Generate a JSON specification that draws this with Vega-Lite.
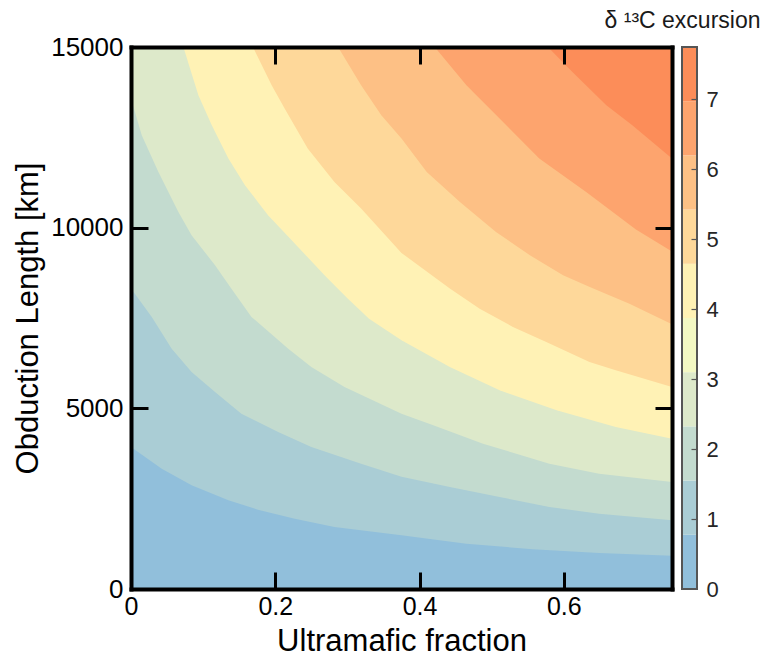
{
  "$schema": "https://vega.github.io/schema/vega-lite/v6.json",
  "padding": {"left": 12, "top": 10, "right": 5, "bottom": 5},
  "config": {"font": "Liberation Sans", "view": {"stroke": null}, "axis": {"grid": false}},
  "datasets": {
    "contours": [
      {"band": "b0", "x": 0, "y": 0}, {"band": "b0", "x": 0.75, "y": 0},
      {"band": "b1", "x": 0, "y": 3930}, {"band": "b1", "x": 0.0426, "y": 3330}, {"band": "b1", "x": 0.084, "y": 2870}, {"band": "b1", "x": 0.135, "y": 2455}, {"band": "b1", "x": 0.176, "y": 2195}, {"band": "b1", "x": 0.227, "y": 1946}, {"band": "b1", "x": 0.282, "y": 1716}, {"band": "b1", "x": 0.375, "y": 1486}, {"band": "b1", "x": 0.465, "y": 1254}, {"band": "b1", "x": 0.557, "y": 1099}, {"band": "b1", "x": 0.649, "y": 996}, {"band": "b1", "x": 0.75, "y": 920},
      {"band": "b2", "x": 0, "y": 8313}, {"band": "b2", "x": 0.0288, "y": 7530}, {"band": "b2", "x": 0.0564, "y": 6652}, {"band": "b2", "x": 0.084, "y": 6007}, {"band": "b2", "x": 0.1165, "y": 5453}, {"band": "b2", "x": 0.153, "y": 4852}, {"band": "b2", "x": 0.204, "y": 4346}, {"band": "b2", "x": 0.25, "y": 3931}, {"band": "b2", "x": 0.319, "y": 3468}, {"band": "b2", "x": 0.375, "y": 3110}, {"band": "b2", "x": 0.442, "y": 2823}, {"band": "b2", "x": 0.511, "y": 2547}, {"band": "b2", "x": 0.58, "y": 2270}, {"band": "b2", "x": 0.649, "y": 2085}, {"band": "b2", "x": 0.75, "y": 1900},
      {"band": "b3", "x": 0, "y": 13572}, {"band": "b3", "x": 0.0149, "y": 12558}, {"band": "b3", "x": 0.038, "y": 11543}, {"band": "b3", "x": 0.0657, "y": 10435}, {"band": "b3", "x": 0.084, "y": 9790}, {"band": "b3", "x": 0.1165, "y": 8960}, {"band": "b3", "x": 0.139, "y": 8313}, {"band": "b3", "x": 0.167, "y": 7530}, {"band": "b3", "x": 0.218, "y": 6652}, {"band": "b3", "x": 0.25, "y": 6145}, {"band": "b3", "x": 0.296, "y": 5591}, {"band": "b3", "x": 0.375, "y": 4852}, {"band": "b3", "x": 0.419, "y": 4531}, {"band": "b3", "x": 0.488, "y": 4022}, {"band": "b3", "x": 0.58, "y": 3468}, {"band": "b3", "x": 0.649, "y": 3191}, {"band": "b3", "x": 0.75, "y": 2962},
      {"band": "b5", "x": 0.0726, "y": 15000}, {"band": "b5", "x": 0.0934, "y": 13665}, {"band": "b5", "x": 0.112, "y": 12835}, {"band": "b5", "x": 0.135, "y": 11911}, {"band": "b5", "x": 0.158, "y": 11174}, {"band": "b5", "x": 0.19, "y": 10344}, {"band": "b5", "x": 0.227, "y": 9560}, {"band": "b5", "x": 0.27, "y": 8650}, {"band": "b5", "x": 0.3, "y": 8050}, {"band": "b5", "x": 0.33, "y": 7480}, {"band": "b5", "x": 0.375, "y": 6884}, {"band": "b5", "x": 0.442, "y": 6145}, {"band": "b5", "x": 0.511, "y": 5500}, {"band": "b5", "x": 0.59, "y": 4946}, {"band": "b5", "x": 0.672, "y": 4484}, {"band": "b5", "x": 0.75, "y": 4161},
      {"band": "b6", "x": 0.169, "y": 15000}, {"band": "b6", "x": 0.195, "y": 13942}, {"band": "b6", "x": 0.213, "y": 13296}, {"band": "b6", "x": 0.245, "y": 12189}, {"band": "b6", "x": 0.282, "y": 11266}, {"band": "b6", "x": 0.319, "y": 10528}, {"band": "b6", "x": 0.375, "y": 9300}, {"band": "b6", "x": 0.442, "y": 8313}, {"band": "b6", "x": 0.4834, "y": 7759}, {"band": "b6", "x": 0.5295, "y": 7252}, {"band": "b6", "x": 0.5757, "y": 6837}, {"band": "b6", "x": 0.6356, "y": 6283}, {"band": "b6", "x": 0.672, "y": 6054}, {"band": "b6", "x": 0.75, "y": 5591},
      {"band": "b7", "x": 0.287, "y": 15000}, {"band": "b7", "x": 0.319, "y": 13942}, {"band": "b7", "x": 0.347, "y": 13112}, {"band": "b7", "x": 0.375, "y": 12465}, {"band": "b7", "x": 0.41, "y": 11543}, {"band": "b7", "x": 0.456, "y": 10712}, {"band": "b7", "x": 0.506, "y": 9882}, {"band": "b7", "x": 0.553, "y": 9237}, {"band": "b7", "x": 0.599, "y": 8683}, {"band": "b7", "x": 0.636, "y": 8360}, {"band": "b7", "x": 0.691, "y": 7897}, {"band": "b7", "x": 0.75, "y": 7330},
      {"band": "b8", "x": 0.421, "y": 15000}, {"band": "b8", "x": 0.465, "y": 13942}, {"band": "b8", "x": 0.511, "y": 13019}, {"band": "b8", "x": 0.566, "y": 11911}, {"band": "b8", "x": 0.631, "y": 10989}, {"band": "b8", "x": 0.7, "y": 9950}, {"band": "b8", "x": 0.75, "y": 9340},
      {"band": "b9", "x": 0.578, "y": 15000}, {"band": "b9", "x": 0.612, "y": 14311}, {"band": "b9", "x": 0.659, "y": 13389}, {"band": "b9", "x": 0.695, "y": 12835}, {"band": "b9", "x": 0.75, "y": 11911}
    ],
    "colorbar": [
      {"band": "b0", "lo": 0, "hi": 0.775}, {"band": "b1", "lo": 0.775, "hi": 1.55}, {"band": "b2", "lo": 1.55, "hi": 2.325}, {"band": "b3", "lo": 2.325, "hi": 3.1}, {"band": "b4", "lo": 3.1, "hi": 3.875},
      {"band": "b5", "lo": 3.875, "hi": 4.65}, {"band": "b6", "lo": 4.65, "hi": 5.425}, {"band": "b7", "lo": 5.425, "hi": 6.2}, {"band": "b8", "lo": 6.2, "hi": 6.975}, {"band": "b9", "lo": 6.975, "hi": 7.75}
    ]
  },
  "bounds": "flush",
  "spacing": 10,
  "hconcat": [
    {
      "width": 541,
      "height": 542,
      "data": {"name": "contours"},
      "encoding": {
        "x": {"field": "x", "type": "quantitative", "scale": {"domain": [0, 0.75], "nice": false, "zero": false}, "axis": null},
        "y": {"field": "y", "type": "quantitative", "stack": null, "scale": {"domain": [0, 15000], "nice": false}, "axis": null},
        "y2": {"datum": 15000},
        "color": {"field": "band", "type": "nominal", "legend": null,
          "scale": {"domain": ["b0", "b1", "b2", "b3", "b4", "b5", "b6", "b7", "b8", "b9"],
                    "range": ["#91bfdb", "#aacdd5", "#c3dbcf", "#dde9ca", "#f3f8c3", "#fff2b5", "#fed89a", "#fdc085", "#fda46e", "#fc8d59"]}}
      },
      "layer": [
        {"transform": [{"filter": "datum.band == 'b0'"}], "mark": {"type": "area", "clip": true},
         "encoding": {
           "x": {"field": "x", "type": "quantitative", "scale": {"domain": [0, 0.75], "nice": false, "zero": false},
                 "axis": {"orient": "bottom", "values": [0, 0.2, 0.4, 0.6], "format": "~g", "title": "Ultramafic fraction", "titleFontSize": 31, "titleFontWeight": "normal", "titleColor": "#000", "titlePadding": 7,
                          "labelFontSize": 25, "labelColor": "#000", "labelPadding": 5, "labelFlush": false, "tickSize": 0, "tickWidth": 0,
                          "domainColor": "#000", "domainWidth": 4, "domainCap": "square", "zindex": 2}},
           "y": {"field": "y", "type": "quantitative", "stack": null, "scale": {"domain": [0, 15000], "nice": false},
                 "axis": {"orient": "left", "values": [0, 5000, 10000, 15000], "format": "d", "title": "Obduction Length [km]", "titleFontSize": 31, "titleFontWeight": "normal", "titleColor": "#000", "titlePadding": 6,
                          "labelFontSize": 26, "labelColor": "#000", "labelPadding": 8, "labelFlush": false, "tickSize": 0, "tickWidth": 0,
                          "domainColor": "#000", "domainWidth": 4, "domainCap": "square", "zindex": 2}}
         }},
        {"transform": [{"filter": "datum.band == 'b1'"}], "mark": {"type": "area", "clip": true},
         "encoding": {
           "y": {"field": "y", "type": "quantitative", "stack": null, "scale": {"domain": [0, 15000], "nice": false},
                 "axis": {"orient": "right", "values": [5000, 10000], "labels": false, "title": null, "domain": false, "offset": -17, "tickSize": 17, "tickWidth": 3, "tickColor": "#000", "zindex": 1}}
         }},
        {"transform": [{"filter": "datum.band == 'b2'"}], "mark": {"type": "area", "clip": true},
         "encoding": {
           "y": {"field": "y", "type": "quantitative", "stack": null, "scale": {"domain": [0, 15000], "nice": false},
                 "axis": {"orient": "left", "values": [5000, 10000], "labels": false, "title": null, "domain": false, "offset": -17, "tickSize": 17, "tickWidth": 3, "tickColor": "#000", "zindex": 1}}
         }},
        {"transform": [{"filter": "datum.band == 'b3'"}], "mark": {"type": "area", "clip": true},
         "encoding": {
           "x": {"field": "x", "type": "quantitative", "scale": {"domain": [0, 0.75], "nice": false, "zero": false},
                 "axis": {"orient": "top", "labels": false, "ticks": false, "title": null, "domainColor": "#000", "domainWidth": 4, "domainCap": "square", "zindex": 2}},
           "y": {"field": "y", "type": "quantitative", "stack": null, "scale": {"domain": [0, 15000], "nice": false},
                 "axis": {"orient": "right", "labels": false, "ticks": false, "title": null, "domainColor": "#000", "domainWidth": 4, "domainCap": "square", "zindex": 2}}
         }},
        {"transform": [{"filter": "datum.band == 'b5'"}], "mark": {"type": "area", "clip": true},
         "encoding": {
           "x": {"field": "x", "type": "quantitative", "scale": {"domain": [0, 0.75], "nice": false, "zero": false},
                 "axis": {"orient": "top", "values": [0.2, 0.4, 0.6], "labels": false, "title": null, "domain": false, "offset": -17, "tickSize": 17, "tickWidth": 3, "tickColor": "#000", "zindex": 1}}
         }},
        {"transform": [{"filter": "datum.band == 'b6'"}], "mark": {"type": "area", "clip": true},
         "encoding": {
           "x": {"field": "x", "type": "quantitative", "scale": {"domain": [0, 0.75], "nice": false, "zero": false},
                 "axis": {"orient": "bottom", "values": [0.2, 0.4, 0.6], "labels": false, "title": null, "domain": false, "offset": -17, "tickSize": 17, "tickWidth": 3, "tickColor": "#000", "zindex": 1}}
         }},
        {"transform": [{"filter": "datum.band == 'b7'"}], "mark": {"type": "area", "clip": true}},
        {"transform": [{"filter": "datum.band == 'b8'"}], "mark": {"type": "area", "clip": true}},
        {"transform": [{"filter": "datum.band == 'b9'"}], "mark": {"type": "area", "clip": true}}
      ],
      "resolve": {"axis": {"x": "independent", "y": "independent"}}
    },
    {
      "width": 15,
      "height": 542,
      "title": {"text": "δ ¹³C excursion", "fontSize": 23, "fontWeight": "normal", "font": "Liberation Sans", "color": "#1a1a1a", "anchor": "middle", "dx": -7, "offset": 13},
      "data": {"name": "colorbar"},
      "encoding": {
        "x": {"datum": 0, "type": "quantitative", "scale": {"domain": [0, 1], "nice": false, "zero": false}, "axis": null},
        "x2": {"datum": 1}
      },
      "layer": [
        {
          "mark": "rect",
          "encoding": {
            "y": {"field": "lo", "type": "quantitative", "scale": {"domain": [0, 7.75], "nice": false},
                  "axis": {"orient": "right", "values": [0, 1, 2, 3, 4, 5, 6, 7], "title": null, "domain": false, "tickSize": 0, "tickWidth": 0,
                           "labelFontSize": 22, "labelColor": "#262626", "labelPadding": 9, "labelFlush": false, "zindex": 1}},
            "y2": {"field": "hi"},
            "color": {"field": "band", "type": "nominal", "legend": null,
              "scale": {"domain": ["b0", "b1", "b2", "b3", "b4", "b5", "b6", "b7", "b8", "b9"],
                        "range": ["#91bfdb", "#aacdd5", "#c3dbcf", "#dde9ca", "#f3f8c3", "#fff2b5", "#fed89a", "#fdc085", "#fda46e", "#fc8d59"]}}
          }
        },
        {
          "mark": {"type": "rect", "filled": false, "stroke": "#555555", "strokeWidth": 1.5},
          "encoding": {
            "y": {"datum": 0, "type": "quantitative", "scale": {"domain": [0, 7.75], "nice": false},
                  "axis": {"orient": "right", "values": [1, 2, 3, 4, 5, 6, 7], "title": null, "domain": false, "labels": false, "offset": -6, "tickSize": 6, "tickWidth": 1.2, "tickColor": "#555555", "zindex": 1}},
            "y2": {"datum": 7.75}
          }
        }
      ],
      "resolve": {"axis": {"y": "independent"}}
    }
  ]
}
